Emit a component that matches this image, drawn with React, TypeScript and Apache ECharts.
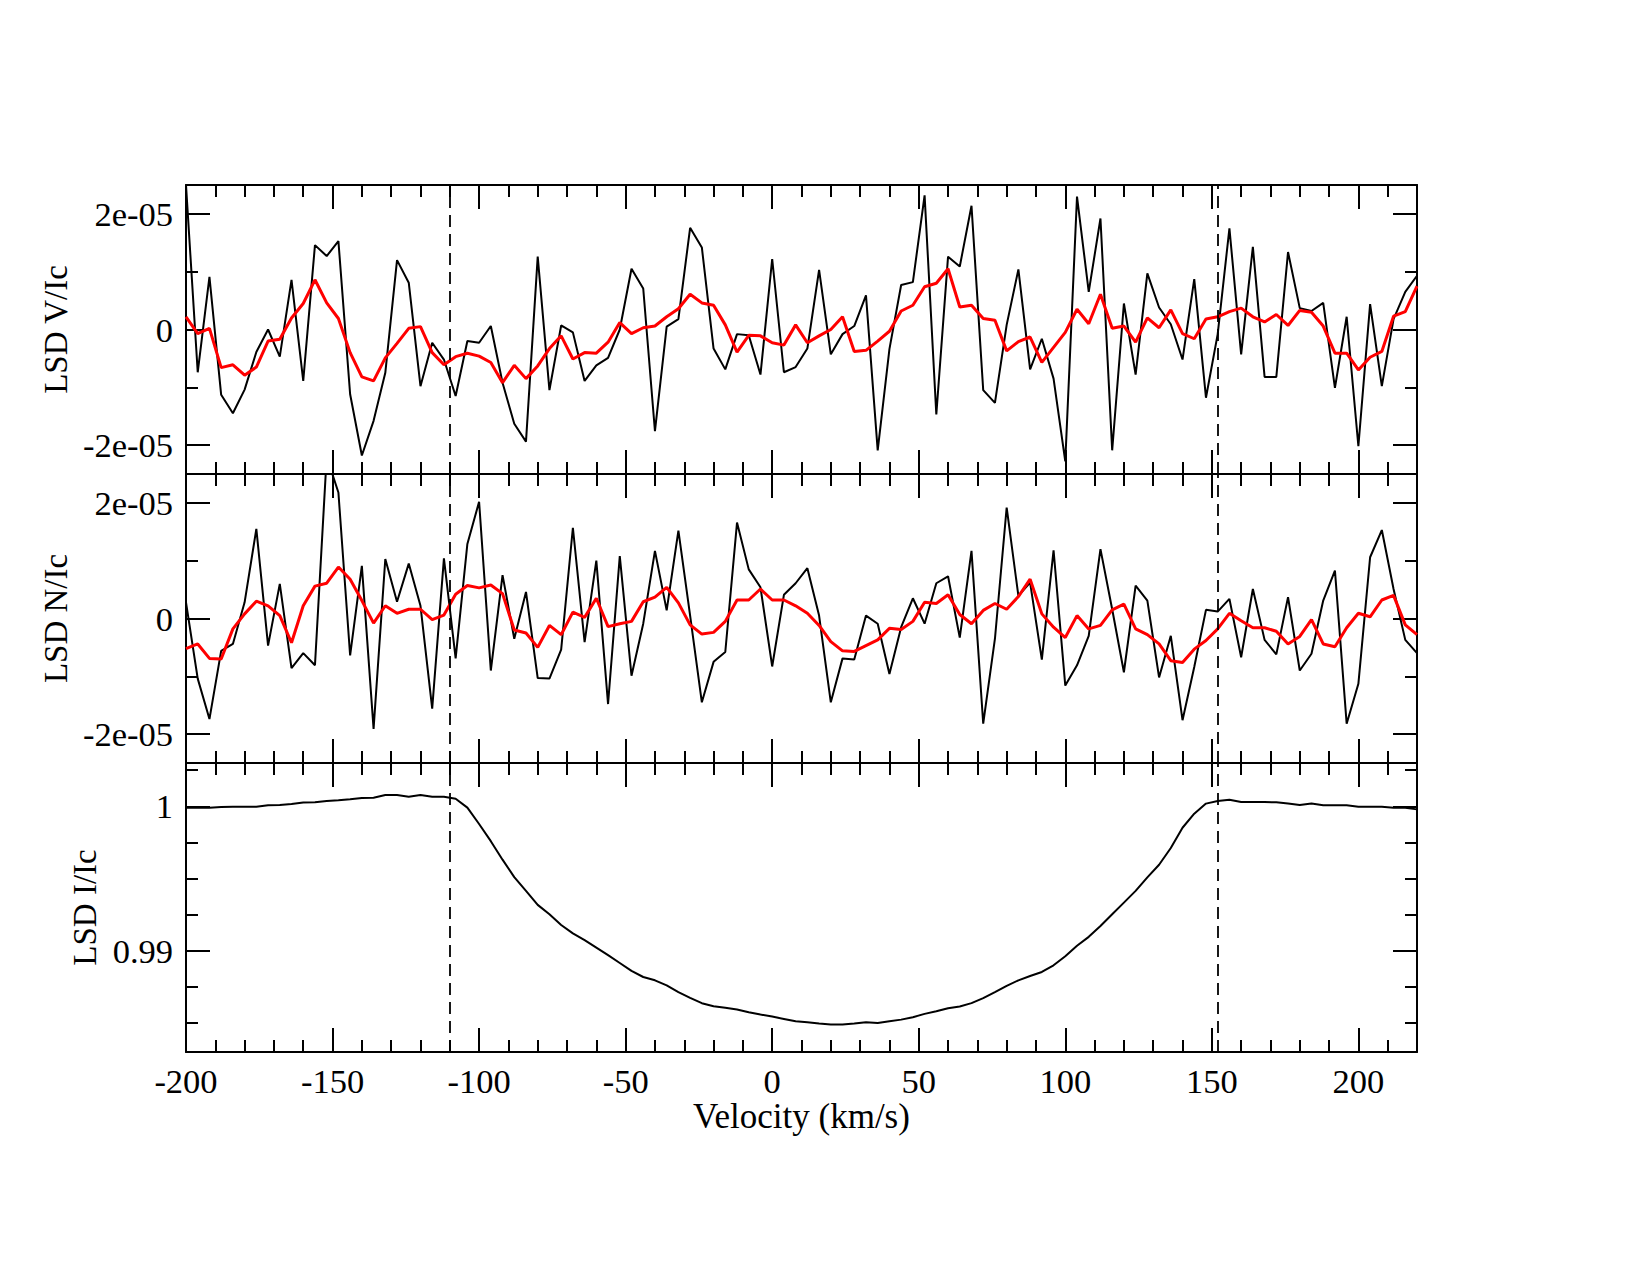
import React, { useEffect, useRef } from "react";
import * as echarts from "echarts";

// Velocity grid of the LSD profiles (km/s)
const velocity = [
  -200, -196, -192, -188, -184, -180, -176, -172, -168, -164,
  -160, -156, -152, -148, -144, -140, -136, -132, -128, -124,
  -120, -116, -112, -108, -104, -100, -96, -92, -88, -84,
  -80, -76, -72, -68, -64, -60, -56, -52, -48, -44,
  -40, -36, -32, -28, -24, -20, -16, -12, -8, -4,
  0, 4, 8, 12, 16, 20, 24, 28, 32, 36,
  40, 44, 48, 52, 56, 60, 64, 68, 72, 76,
  80, 84, 88, 92, 96, 100, 104, 108, 112, 116,
  120, 124, 128, 132, 136, 140, 144, 148, 152, 156,
  160, 164, 168, 172, 176, 180, 184, 188, 192, 196,
  200, 204, 208, 212, 216, 220,
];

// Stokes V / Ic, in units of 1e-5
const stokesV = [
  2.5, -0.74, 0.91, -1.13, -1.45, -1.04, -0.39, 0.0, -0.47, 0.86,
  -0.89, 1.46, 1.27, 1.53, -1.12, -2.18, -1.58, -0.75, 1.2, 0.81,
  -0.98, -0.23, -0.52, -1.15, -0.2, -0.23, 0.06, -0.92, -1.63, -1.94,
  1.26, -1.05, 0.07, -0.05, -0.89, -0.62, -0.49, 0.0, 1.05, 0.71,
  -1.76, 0.05, 0.18, 1.76, 1.42, -0.33, -0.69, -0.08, -0.1, -0.78,
  1.22, -0.74, -0.65, -0.33, 1.03, -0.43, -0.08, 0.06, 0.59, -2.09,
  -0.34, 0.77, 0.82, 2.32, -1.47, 1.26, 1.09, 2.14, -1.05, -1.27,
  0.08, 1.04, -0.69, -0.16, -0.85, -2.28, 2.3, 0.65, 1.92, -2.09,
  0.45, -0.78, 0.97, 0.38, 0.09, -0.52, 0.87, -1.18, -0.08, 1.75,
  -0.43, 1.43, -0.82, -0.82, 1.34, 0.37, 0.32, 0.46, -1.01, 0.22,
  -2.02, 0.44, -0.98, 0.18, 0.65, 0.93,
];

// Smoothed Stokes V / Ic, in units of 1e-5
const stokesVSmooth = [
  0.22, -0.07, 0.02, -0.66, -0.61, -0.79, -0.65, -0.2, -0.17, 0.2,
  0.45, 0.86, 0.46, 0.19, -0.4, -0.82, -0.89, -0.49, -0.24, 0.02,
  0.05, -0.4, -0.61, -0.47, -0.41, -0.46, -0.57, -0.92, -0.62, -0.85,
  -0.63, -0.33, -0.11, -0.51, -0.4, -0.41, -0.22, 0.12, -0.07, 0.03,
  0.06, 0.22, 0.36, 0.61, 0.46, 0.42, 0.08, -0.39, -0.1, -0.11,
  -0.23, -0.27, 0.08, -0.23, -0.11, 0.0, 0.22, -0.38, -0.36, -0.2,
  -0.03, 0.32, 0.42, 0.74, 0.8, 1.05, 0.39, 0.42, 0.19, 0.16,
  -0.37, -0.21, -0.13, -0.57, -0.31, -0.05, 0.35, 0.1, 0.61, 0.02,
  0.06, -0.22, 0.2, 0.03, 0.34, -0.07, -0.16, 0.18, 0.22, 0.31,
  0.37, 0.22, 0.13, 0.26, 0.07, 0.33, 0.3, 0.06, -0.41, -0.41,
  -0.7, -0.48, -0.38, 0.23, 0.31, 0.75,
];

// Null profile N / Ic, in units of 1e-5
const nullN = [
  0.28, -1.04, -1.74, -0.56, -0.44, 0.28, 1.55, -0.47, 0.6, -0.86,
  -0.6, -0.81, 2.8, 2.18, -0.64, 0.91, -1.91, 1.03, 0.29, 0.95,
  0.22, -1.56, 1.04, -0.69, 1.29, 2.02, -0.9, 0.75, -0.35, 0.46,
  -1.03, -1.04, -0.54, 1.57, -0.41, 1.0, -1.48, 1.08, -0.99, -0.09,
  1.17, 0.14, 1.52, 0.05, -1.45, -0.75, -0.58, 1.66, 0.85, 0.54,
  -0.83, 0.41, 0.61, 0.87, 0.05, -1.45, -0.69, -0.71, 0.05, -0.09,
  -0.96, -0.15, 0.35, -0.09, 0.61, 0.73, -0.33, 1.17, -1.82, -0.35,
  1.92, 0.39, 0.62, -0.71, 1.18, -1.16, -0.81, -0.3, 1.2, 0.16,
  -0.93, 0.57, 0.31, -1.02, -0.3, -1.76, -0.84, 0.15, 0.12, 0.34,
  -0.67, 0.51, -0.37, -0.62, 0.37, -0.9, -0.61, 0.31, 0.83, -1.82,
  -1.13, 1.06, 1.53, 0.51, -0.37, -0.6,
];

// Smoothed null profile N / Ic, in units of 1e-5
const nullNSmooth = [
  -0.52, -0.44, -0.69, -0.7, -0.18, 0.08, 0.3, 0.22, 0.05, -0.42,
  0.22, 0.56, 0.61, 0.89, 0.68, 0.31, -0.08, 0.22, 0.09, 0.16,
  0.16, -0.02, 0.06, 0.42, 0.57, 0.53, 0.58, 0.43, -0.2, -0.25,
  -0.5, -0.12, -0.28, 0.11, 0.02, 0.35, -0.14, -0.09, -0.05, 0.29,
  0.37, 0.54, 0.27, -0.11, -0.27, -0.24, -0.05, 0.32, 0.32, 0.51,
  0.32, 0.32, 0.22, 0.09, -0.12, -0.4, -0.56, -0.57, -0.47, -0.37,
  -0.17, -0.19, -0.05, 0.28, 0.26, 0.41, 0.07, -0.09, 0.14, 0.26,
  0.16, 0.38, 0.68, 0.08, -0.15, -0.33, 0.05, -0.18, -0.12, 0.15,
  0.25, -0.18, -0.28, -0.44, -0.73, -0.76, -0.53, -0.38, -0.18, 0.09,
  -0.04, -0.16, -0.16, -0.22, -0.44, -0.31, -0.02, -0.44, -0.49, -0.16,
  0.09, 0.03, 0.32, 0.4, -0.11, -0.28,
];

// Stokes I / Ic
const intensity = [
  0.99991, 0.99991, 0.99991, 0.99995, 0.99998, 0.99998, 0.99998, 1.00007, 1.00009, 1.00016,
  1.00026, 1.00028, 1.00037, 1.00042, 1.00049, 1.00058, 1.0006, 1.00079, 1.00079, 1.00067,
  1.00079, 1.00067, 1.00067, 1.00053, 0.99991, 0.99878, 0.99759, 0.99631, 0.9951, 0.99415,
  0.99318, 0.99253, 0.99179, 0.99121, 0.99074, 0.99022, 0.9897, 0.98916, 0.98861, 0.98819,
  0.98796, 0.98761, 0.98715, 0.98675, 0.98638, 0.98617, 0.98606, 0.98594, 0.98575, 0.98559,
  0.98545, 0.98529, 0.98513, 0.98506, 0.98497, 0.9849, 0.9849, 0.98497, 0.98506, 0.98501,
  0.98513, 0.98524, 0.98541, 0.98564, 0.98582, 0.98603, 0.98615, 0.98638, 0.98673, 0.98715,
  0.98758, 0.98796, 0.98826, 0.98854, 0.989, 0.98963, 0.99035, 0.99097, 0.99172, 0.99253,
  0.99334, 0.99415, 0.99508, 0.99596, 0.99712, 0.99852, 0.99949, 1.00019, 1.00037, 1.00046,
  1.0003, 1.0003, 1.0003, 1.00028, 1.00019, 1.00009, 1.00019, 1.00007, 1.00007, 1.00007,
  0.99998, 0.99998, 0.99998, 0.99991, 0.99991, 0.99979,
];

// Integration limits of the line (km/s)
const lineLimits = [-110, 152];

// Axis ticks
const polMajorTicks = [-2e-5, 0, 2e-5];
const polMinorTicks = [-1e-5, 1e-5];
const intMajorTicks = [0.99, 1];
const intMinorTicks = [0.985, 0.9875, 0.9925, 0.995, 0.9975, 1.0025];

const FONT = "'Liberation Serif', 'Times New Roman', serif";
const TICK_FONT_SIZE = 34.5;
const TITLE_FONT_SIZE = 33;
const XNAME_FONT_SIZE = 35;
const BLACK = "#000000";
const RED = "#ff0000";

const GRID_LEFT = 186;
const GRID_WIDTH = 1231;
const PANEL_HEIGHT = 289;
const PANEL_TOPS = [185, 474, 763];

const sciLabel = (v: number) =>
  v === 0 ? "0" : v.toExponential(0).replace(/e([+-])(\d)$/, (_m, s, d) => `e${s}0${d}`);

const axisLineStyle = { color: BLACK, width: 2 };

function buildXAxes(gridIndex: number, withLabels: boolean) {
  const base: any = {
    type: "value",
    gridIndex,
    min: -200,
    max: 220,
    interval: 50,
    axisLine: { show: true, onZero: false, lineStyle: axisLineStyle },
    axisTick: { show: true, inside: true, length: 24, lineStyle: axisLineStyle },
    minorTick: { show: true, splitNumber: 5, length: 12, lineStyle: axisLineStyle },
    splitLine: { show: false },
    minorSplitLine: { show: false },
    axisLabel: { show: false },
  };
  const bottom: any = { ...base, position: "bottom" };
  if (withLabels) {
    bottom.axisLabel = {
      show: true,
      margin: 11,
      showMaxLabel: false,
      color: BLACK,
      fontFamily: FONT,
      fontSize: TICK_FONT_SIZE,
    };
    bottom.name = "Velocity (km/s)";
    bottom.nameLocation = "middle";
    bottom.nameGap = 45;
    bottom.nameTextStyle = { color: BLACK, fontFamily: FONT, fontSize: XNAME_FONT_SIZE };
  }
  return [bottom, { ...base, position: "top" }];
}

function buildYAxes(
  gridIndex: number,
  min: number,
  max: number,
  majors: number[],
  minors: number[],
  formatter: (v: number) => string,
  name: string,
  nameGap: number
) {
  const base: any = {
    type: "value",
    gridIndex,
    min,
    max,
    splitLine: { show: false },
    axisLabel: { show: false },
  };
  const major = (position: string, withLabels: boolean) => {
    const ax: any = {
      ...base,
      position,
      axisLine: { show: true, onZero: false, lineStyle: axisLineStyle },
      axisTick: { show: true, inside: true, length: 24, customValues: majors, lineStyle: axisLineStyle },
    };
    if (withLabels) {
      ax.axisLabel = {
        show: true,
        customValues: majors,
        formatter,
        margin: 13,
        color: BLACK,
        fontFamily: FONT,
        fontSize: TICK_FONT_SIZE,
      };
      ax.name = name;
      ax.nameLocation = "middle";
      ax.nameRotate = 90;
      ax.nameGap = nameGap;
      ax.nameTextStyle = { color: BLACK, fontFamily: FONT, fontSize: TITLE_FONT_SIZE };
    }
    return ax;
  };
  const minor = (position: string) => ({
    ...base,
    position,
    axisLine: { show: false, onZero: false },
    axisTick: { show: true, inside: true, length: 12, customValues: minors, lineStyle: axisLineStyle },
  });
  return [major("left", true), minor("left"), major("right", false), minor("right")];
}

const toPairs = (ys: number[], unit = 1) => velocity.map((v, i) => [v, ys[i] * unit]);

const limitLines = {
  silent: true,
  symbol: ["none", "none"],
  label: { show: false },
  lineStyle: { color: BLACK, width: 1.8, type: [12, 7] },
  data: lineLimits.map((x) => ({ xAxis: x })),
};

function lineSeries(panel: number, data: number[][], color: string, width: number, z: number, marks: boolean) {
  const s: any = {
    type: "line",
    xAxisIndex: panel * 2,
    yAxisIndex: panel * 4,
    data,
    symbol: "none",
    showSymbol: false,
    clip: true,
    lineStyle: { color, width },
    z,
  };
  if (marks) s.markLine = limitLines;
  return s;
}

export default function App() {
  const ref = useRef<HTMLDivElement>(null);

  useEffect(() => {
    if (!ref.current) return;
    const chart = echarts.init(ref.current, null, { renderer: "svg" });
    const option: any = {
      animation: false,
      backgroundColor: "#ffffff",
      grid: PANEL_TOPS.map((top) => ({ left: GRID_LEFT, width: GRID_WIDTH, top, height: PANEL_HEIGHT })),
      xAxis: [...buildXAxes(0, false), ...buildXAxes(1, false), ...buildXAxes(2, true)],
      yAxis: [
        ...buildYAxes(0, -2.5e-5, 2.5e-5, polMajorTicks, polMinorTicks, sciLabel, "LSD V/Ic", 107),
        ...buildYAxes(1, -2.5e-5, 2.5e-5, polMajorTicks, polMinorTicks, sciLabel, "LSD N/Ic", 107),
        ...buildYAxes(2, 0.983, 1.003, intMajorTicks, intMinorTicks, (v: number) => String(v), "LSD I/Ic", 79),
      ],
      series: [
        lineSeries(0, toPairs(stokesV, 1e-5), BLACK, 2, 2, true),
        lineSeries(0, toPairs(stokesVSmooth, 1e-5), RED, 3, 3, false),
        lineSeries(1, toPairs(nullN, 1e-5), BLACK, 2, 2, true),
        lineSeries(1, toPairs(nullNSmooth, 1e-5), RED, 3, 3, false),
        lineSeries(2, toPairs(intensity), BLACK, 2, 2, true),
      ],
    };
    chart.setOption(option);
    return () => chart.dispose();
  }, []);

  return (
    <div
      ref={ref}
      style={{ position: "absolute", left: 0, top: 0, width: 1650, height: 1275, background: "#fff" }}
    />
  );
}
